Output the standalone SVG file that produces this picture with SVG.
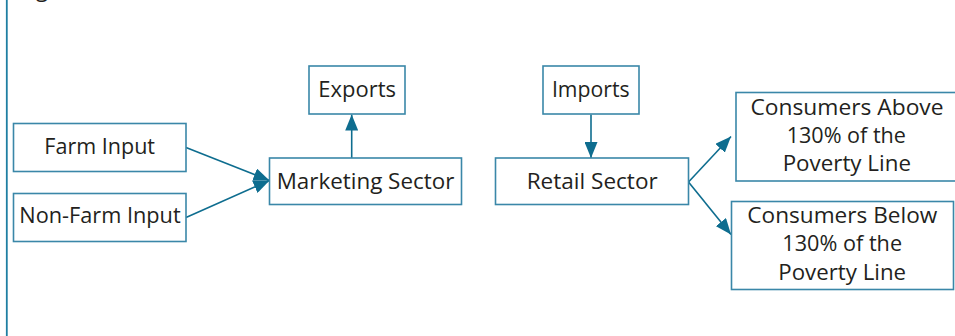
<svg xmlns="http://www.w3.org/2000/svg" width="955" height="336" viewBox="0 0 955 336">
  <style>
    .box { fill: #ffffff; stroke: #3a87a8; stroke-width: 1.6; }
    .lbl { font-family: "Open Sans", "Liberation Sans", sans-serif; font-size: 21px; fill: #231f20; text-anchor: middle; }
    .link { stroke: #0e6d8f; stroke-width: 1.6; fill: none; marker-end: url(#head); }
  </style>
  <defs>
    <marker id="head" markerUnits="userSpaceOnUse" markerWidth="17" markerHeight="13" refX="16" refY="6.5" orient="auto">
      <path d="M0,0 L16,6.5 L0,13 Z" fill="#0e6d8f"/>
    </marker>
  </defs>
  <rect width="955" height="336" fill="#ffffff"/>
  <!-- frame edge on the left -->
  <line x1="6.8" y1="0" x2="6.8" y2="336" stroke="#1f7fa2" stroke-width="1.8"/>
  <text x="36" y="-3" font-family="Open Sans, sans-serif" font-size="22" fill="#231f20">g</text>

  <g id="connectors">
    <line class="link" x1="186" y1="147.5" x2="269.5" y2="180.5"/>
    <line class="link" x1="186" y1="217.5" x2="269.5" y2="180.5"/>
    <line class="link" x1="351.7" y1="158" x2="351.7" y2="114.5"/>
    <line class="link" x1="591" y1="114.5" x2="591" y2="158"/>
    <line class="link" x1="688.5" y1="182" x2="731" y2="136.5"/>
    <line class="link" x1="688.5" y1="182" x2="731" y2="234.5"/>
  </g>

  <g id="farm-input">
    <rect class="box" x="13.5" y="123.5" width="172.5" height="48"/>
    <text class="lbl" x="99.7" y="154.3" textLength="110.7" lengthAdjust="spacingAndGlyphs">Farm Input</text>
  </g>
  <g id="non-farm-input">
    <rect class="box" x="13.5" y="193.5" width="172.5" height="48"/>
    <text class="lbl" x="100" y="222.7" textLength="161.3" lengthAdjust="spacingAndGlyphs">Non-Farm Input</text>
  </g>
  <g id="marketing-sector">
    <rect class="box" x="269.5" y="158" width="192" height="46.5"/>
    <text class="lbl" x="365.5" y="189.3" textLength="177.7" lengthAdjust="spacingAndGlyphs">Marketing Sector</text>
  </g>
  <g id="exports">
    <rect class="box" x="309" y="66" width="96" height="48"/>
    <text class="lbl" x="357.2" y="96.7" textLength="77.7" lengthAdjust="spacingAndGlyphs">Exports</text>
  </g>
  <g id="imports">
    <rect class="box" x="543" y="66" width="96" height="48"/>
    <text class="lbl" x="590.8" y="96.7" textLength="77.7" lengthAdjust="spacingAndGlyphs">Imports</text>
  </g>
  <g id="retail-sector">
    <rect class="box" x="495.5" y="158" width="193" height="46.5"/>
    <text class="lbl" x="592.2" y="189.3" textLength="131" lengthAdjust="spacingAndGlyphs">Retail Sector</text>
  </g>
  <g id="consumers-above">
    <rect class="box" x="736" y="92.5" width="224" height="88.5"/>
    <text class="lbl" x="847" y="114.7" textLength="193" lengthAdjust="spacingAndGlyphs">Consumers Above</text>
    <text class="lbl" x="846.3" y="143" textLength="119.3" lengthAdjust="spacingAndGlyphs">130% of the</text>
    <text class="lbl" x="846.8" y="170.7" textLength="128.3" lengthAdjust="spacingAndGlyphs">Poverty Line</text>
  </g>
  <g id="consumers-below">
    <rect class="box" x="731.5" y="201.5" width="222" height="88"/>
    <text class="lbl" x="842.3" y="223" textLength="190" lengthAdjust="spacingAndGlyphs">Consumers Below</text>
    <text class="lbl" x="842.2" y="251.3" textLength="119.7" lengthAdjust="spacingAndGlyphs">130% of the</text>
    <text class="lbl" x="842.2" y="279.7" textLength="127.7" lengthAdjust="spacingAndGlyphs">Poverty Line</text>
  </g>
</svg>
